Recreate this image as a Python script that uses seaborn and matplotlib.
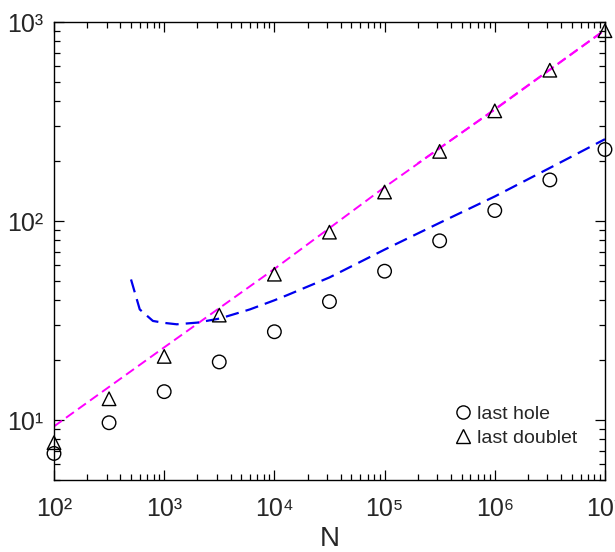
import numpy as np
import pandas as pd
import seaborn as sns
import matplotlib.pyplot as plt
from matplotlib.lines import Line2D
from matplotlib.ticker import FuncFormatter, LogLocator

# data
N_pts = [1e2, 3.16e2, 1e3, 3.16e3, 1e4, 3.16e4, 1e5, 3.16e5, 1e6, 3.16e6, 1e7]
last_hole = [6.8, 9.7, 13.9, 19.6, 27.8, 39.4, 56.0, 79.6, 113, 161, 229]
last_doublet = [7.7, 12.8, 20.9, 33.7, 54.1, 88, 140, 224, 358, 573, 905]

N_magenta = [1e2, 1e3, 1e4, 1e5, 1e6, 1e7]
magenta_fit = [9.3, 23.2, 57.5, 148, 365, 915]
# second (overlapping) magenta line, visible as a thicker stroke at the top
N_magenta2 = [2e5, 1e6, 1e7]
magenta_fit2 = [195, 363, 912]

N_blue = [500, 600, 790, 1000, 1300, 2000, 3200, 6000, 1e4, 1.3e4,
          3.16e4, 1e5, 3.16e5, 1e6, 3.16e6, 1e7]
blue_fit = [50.9, 36.0, 31.5, 30.8, 30.3, 30.9, 32.4, 36.0, 40.0, 42.4,
            52.1, 71.9, 98, 133, 185, 258]

sns.set_style("ticks")
plt.rcParams['font.family'] = ['Liberation Sans', 'DejaVu Sans']

fig = plt.figure(figsize=(6.15, 5.52), dpi=100)
ax = fig.add_axes([0.0878, 0.1304, 0.8959, 0.8296])

df_pts = pd.DataFrame({'N': N_pts, 'hole': last_hole, 'doublet': last_doublet})
df_mag = pd.DataFrame({'N': N_magenta, 'y': magenta_fit})
df_mag2 = pd.DataFrame({'N': N_magenta2, 'y': magenta_fit2})
df_blue = pd.DataFrame({'N': N_blue, 'y': blue_fit})

sns.lineplot(data=df_mag, x='N', y='y', ax=ax, color='#ff00ff', lw=1.4,
             linestyle=(0, (5, 2.6)), sort=False, estimator=None)
sns.lineplot(data=df_mag2, x='N', y='y', ax=ax, color='#ff00ff', lw=1.4,
             linestyle=(3, (5, 2.6)), sort=False, estimator=None)
sns.lineplot(data=df_blue, x='N', y='y', ax=ax, color='#0000ee', lw=1.6,
             linestyle=(0, (6, 3.2)), sort=False, estimator=None)

sns.scatterplot(data=df_pts, x='N', y='hole', ax=ax, marker='o', s=95,
                facecolor='none', edgecolor='black', linewidth=1.0,
                zorder=3, clip_on=False)
sns.scatterplot(data=df_pts, x='N', y='doublet', ax=ax, marker='^', s=95,
                facecolor='none', edgecolor='black', linewidth=1.0,
                zorder=3, clip_on=False)

ax.set_xscale('log')
ax.set_yscale('log')
ax.set_xlim(1e2, 1e7)
ax.set_ylim(5, 1e3)
for a in (ax.xaxis, ax.yaxis):
    a.set_major_locator(LogLocator(base=10, numticks=20))
    a.set_minor_locator(LogLocator(base=10, subs=np.arange(2, 10), numticks=20))

sup = str.maketrans('0123456789', '⁰¹²³⁴⁵⁶⁷⁸⁹')
fmt = FuncFormatter(lambda v, p: '10' + str(int(round(np.log10(v)))).translate(sup))
ax.xaxis.set_major_formatter(fmt)
ax.yaxis.set_major_formatter(fmt)

ax.set_xlabel('N', fontsize=20, labelpad=4)
ax.set_ylabel('')

for s in ax.spines.values():
    s.set_linewidth(1.0)
    s.set_color('black')
    s.set_visible(True)

ax.tick_params(which='both', direction='in', top=True, right=True,
               color='black', width=0.9)
ax.tick_params(which='major', length=7, labelsize=18)
ax.tick_params(axis='x', which='major', pad=12)
ax.tick_params(axis='y', which='major', pad=8)
ax.tick_params(which='minor', length=4)

handles = [
    Line2D([], [], marker='o', ls='', mfc='none', mec='black', ms=9.5, mew=1.0),
    Line2D([], [], marker='^', ls='', mfc='none', mec='black', ms=9.5, mew=1.0),
]
ax.legend(handles, ['last hole', 'last doublet'], loc='lower left',
          bbox_to_anchor=(0.712, 0.055), frameon=False, fontsize=14,
          handlelength=0.9, handletextpad=0.3, labelspacing=0.35,
          borderaxespad=0)

fig.savefig('out.png', dpi=100)
